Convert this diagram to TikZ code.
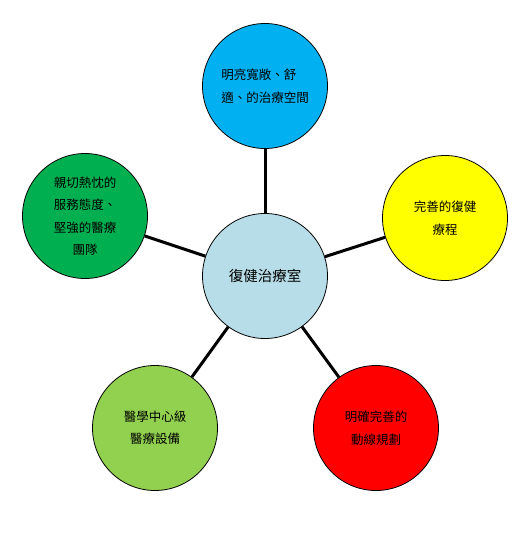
\documentclass[tikz,border=0pt]{standalone}
\usepackage{fontspec}
\newfontfamily\cjk{Noto Sans CJK TC}
\definecolor{cblue}{HTML}{00B0F0}
\definecolor{cgreen}{HTML}{00B050}
\definecolor{cyellow}{HTML}{FFFF00}
\definecolor{clgreen}{HTML}{92D050}
\definecolor{cred}{HTML}{FF0000}
\definecolor{ccenter}{HTML}{B7DEE8}
\tikzset{
  bubble/.style={circle, draw=black, line width=0.8pt, minimum size=125pt, inner sep=0pt,
    font=\cjk\fontsize{12.5pt}{22.5pt}\selectfont, text=black},
  link/.style={line width=3pt, black}
}
\begin{document}
\begin{tikzpicture}[x=1pt,y=-1pt]
\useasboundingbox (0,0) rectangle (531,552);
\node[bubble, fill=ccenter, font=\cjk\fontsize{14.5pt}{20pt}\selectfont] (c) at (265,276) {復健治療室};
\node[bubble, fill=cblue, align=left] (top) at (265,86) {明亮寬敞、舒\\適、的治療空間};
\node[bubble, fill=cgreen, align=center] (left) at (85,216) {親切熱忱的\\服務態度、\\堅強的醫療\\團隊};
\node[bubble, fill=cyellow, align=center] (right) at (445,218) {完善的復健\\療程};
\node[bubble, fill=clgreen, align=center] (bl) at (155,428) {醫學中心級\\醫療設備};
\node[bubble, fill=cred, align=center] (br) at (376,428) {明確完善的\\動線規劃};
\draw[link] (c) -- (top);
\draw[link] (c) -- (left);
\draw[link] (c) -- (right);
\draw[link] (c) -- (bl);
\draw[link] (c) -- (br);
\end{tikzpicture}
\end{document}
